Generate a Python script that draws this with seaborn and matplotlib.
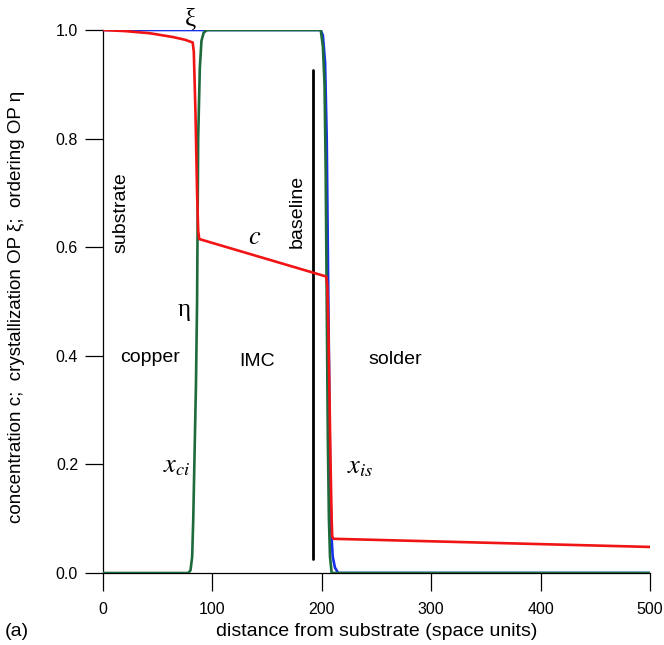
import matplotlib
matplotlib.use("Agg")
import matplotlib.pyplot as plt
import seaborn as sns
import pandas as pd

# ---- data ----
xi_x = [0, 199, 201, 203, 204.5, 206, 207.5, 208.5, 210, 212, 215, 500]
xi_y = [1, 1, 0.99, 0.94, 0.8, 0.5, 0.2, 0.08, 0.03, 0.01, 0, 0]

eta_x = [0, 78, 80, 81.5, 82.5, 83.5, 85, 86, 87, 88.5, 90, 92, 95,
         199, 201, 202.5, 203.5, 204.5, 205.5, 206.5, 207.5, 209, 211, 500]
eta_y = [0, 0, 0.005, 0.03, 0.1, 0.2, 0.35, 0.5, 0.8, 0.93, 0.98, 0.995, 1,
         1, 0.97, 0.9, 0.75, 0.5, 0.25, 0.1, 0.03, 0, 0, 0]

c_x = [0, 20, 43, 64, 75, 82, 83, 84.5, 86, 87, 88,
       204, 205, 206, 207, 208, 209, 209.5, 210.5, 500]
c_y = [1, 0.998, 0.994, 0.987, 0.982, 0.977, 0.96, 0.85, 0.7, 0.63, 0.615,
       0.546, 0.53, 0.45, 0.33, 0.2, 0.1, 0.068, 0.063, 0.048]

baseline_x = [192, 192]
baseline_y = [0.026, 0.926]

x_ticks = [0, 100, 200, 300, 400, 500]
y_ticks = [0.0, 0.2, 0.4, 0.6, 0.8, 1.0]

# ---- style ----
sns.set_theme(style="ticks")
plt.rcParams["font.family"] = ["Liberation Sans", "DejaVu Sans"]
plt.rcParams["mathtext.fontset"] = "stix"
plt.rcParams["text.color"] = "black"
plt.rcParams["axes.labelcolor"] = "black"

fig = plt.figure(figsize=(6.64, 6.45), dpi=100)
ax = fig.add_axes([103 / 664, 72 / 645, 547 / 664, 543 / 645])

df_xi = pd.DataFrame({"x": xi_x, "y": xi_y})
df_eta = pd.DataFrame({"x": eta_x, "y": eta_y})
df_c = pd.DataFrame({"x": c_x, "y": c_y})
df_b = pd.DataFrame({"x": baseline_x, "y": baseline_y})

sns.lineplot(data=df_xi, x="x", y="y", ax=ax, color="#1530e8", lw=1.9,
             sort=False, estimator=None, zorder=3)
sns.lineplot(data=df_eta, x="x", y="y", ax=ax, color="#1d6b3b", lw=1.9,
             sort=False, estimator=None, zorder=4)
sns.lineplot(data=df_c, x="x", y="y", ax=ax, color="#f01414", lw=1.9,
             sort=False, estimator=None, zorder=5)
sns.lineplot(data=df_b, x="x", y="y", ax=ax, color="black", lw=2.0,
             sort=False, estimator=None, zorder=2)

ax.set_xlim(0, 500)
ax.set_ylim(0, 1)
ax.set_xticks(x_ticks)
ax.set_xticklabels([str(t) for t in x_ticks])
ax.set_yticks(y_ticks)
ax.set_yticklabels([f"{t:.1f}" for t in y_ticks])
for sp in ["top", "right"]:
    ax.spines[sp].set_visible(False)
for sp in ["left", "bottom"]:
    ax.spines[sp].set_color("black")
    ax.spines[sp].set_linewidth(0.9)
ax.tick_params(axis="both", direction="out", length=13, width=0.9,
               color="black", labelsize=11.5, labelcolor="black")
ax.tick_params(axis="x", pad=8)
ax.tick_params(axis="y", pad=5)

ax.set_xlabel("distance from substrate (space units)", fontsize=14, color="black")
ax.set_ylabel("concentration c;  crystallization OP ξ;  ordering OP η",
              fontsize=13.5, color="black")
ax.xaxis.set_label_coords(0.5, -0.092)
ax.yaxis.set_label_coords(-0.143, 0.49)

ax.text(79.5, 1.02, "ξ", fontsize=18, family="Liberation Serif",
        ha="center", va="center", clip_on=False)
ax.text(74, 0.484, "η", fontsize=18, family="Liberation Serif",
        ha="center", va="center")
ax.text(16, 0.663, "substrate", fontsize=14, rotation=90, ha="center", va="center")
ax.text(177.8, 0.665, "baseline", fontsize=14, rotation=90, ha="center", va="center")
ax.text(43.4, 0.396, "copper", fontsize=14, ha="center", va="center")
ax.text(140.8, 0.389, "IMC", fontsize=14, ha="center", va="center")
ax.text(267.4, 0.394, "solder", fontsize=14, ha="center", va="center")
ax.text(139, 0.618, r"$c$", fontsize=19, ha="center", va="center")
ax.text(54.8, 0.186, r"$x_{ci}$", fontsize=19, ha="left", va="baseline")
ax.text(223, 0.184, r"$x_{is}$", fontsize=19, ha="left", va="baseline")

fig.text(5 / 664, 1 - 636 / 645, "(a)", fontsize=14, ha="left", va="baseline")

fig.savefig("out.png", dpi=100)
